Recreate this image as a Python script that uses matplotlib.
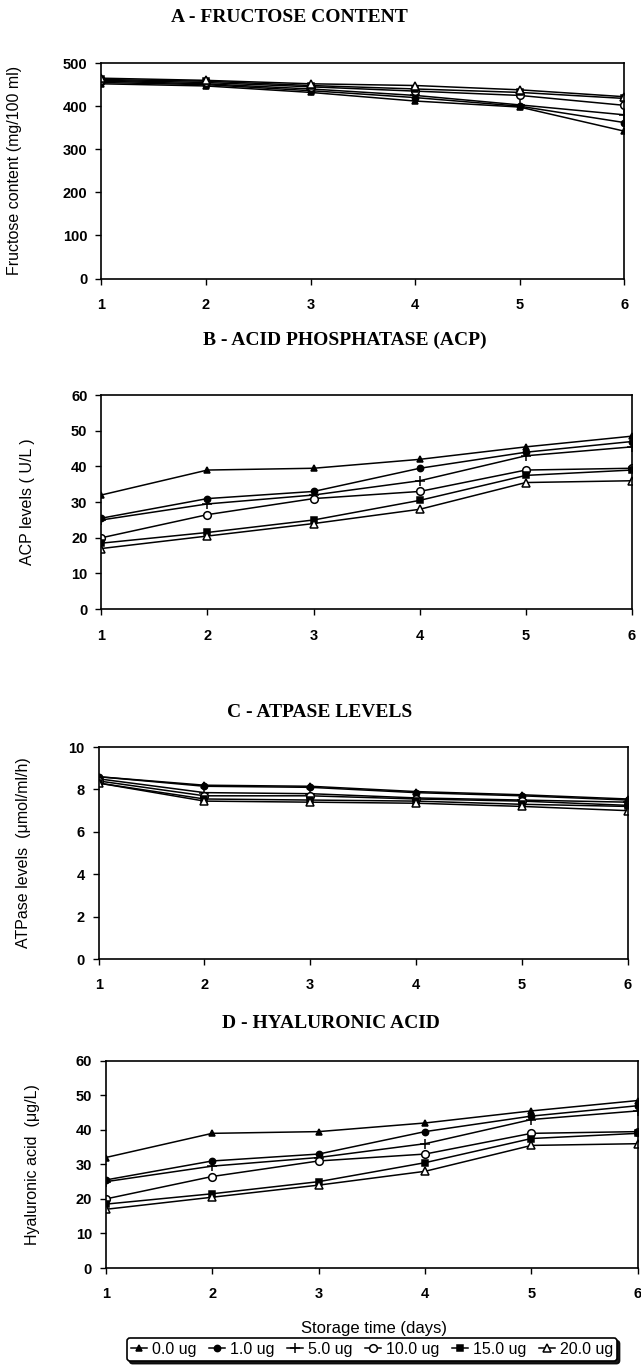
import numpy as np
import matplotlib.pyplot as plt
import matplotlib.transforms as mtrans

days = [1, 2, 3, 4, 5, 6]
doses = ['0.0 ug', '1.0 ug', '5.0 ug', '10.0 ug', '15.0 ug', '20.0 ug']

## A - fructose (mg/100 ml)
fru_00 = [452, 447, 432, 412, 398, 342]
fru_01 = [455, 450, 436, 420, 400, 362]
fru_05 = [458, 452, 440, 425, 403, 380]
fru_10 = [460, 455, 445, 435, 425, 402]
fru_15 = [462, 458, 448, 440, 432, 418]
fru_20 = [465, 460, 452, 448, 438, 422]

## B - ACP (U/L)
acp_00 = [32, 39, 39.5, 42, 45.5, 48.5]
acp_01 = [25.5, 31, 33, 39.5, 44, 47]
acp_05 = [25, 29.5, 32, 36, 43, 45.5]
acp_10 = [20, 26.5, 31, 33, 39, 39.5]
acp_15 = [18.5, 21.5, 25, 30.5, 37.5, 39]
acp_20 = [17, 20.5, 24, 28, 35.5, 36]

## C - ATPase (umol/ml/h)
atp_00 = [8.6, 8.2, 8.15, 7.9, 7.75, 7.55]
atp_01 = [8.6, 8.15, 8.1, 7.85, 7.7, 7.5]
atp_05 = [8.5, 7.85, 7.8, 7.6, 7.5, 7.4]
atp_10 = [8.4, 7.7, 7.7, 7.55, 7.45, 7.25]
atp_15 = [8.3, 7.55, 7.5, 7.45, 7.3, 7.2]
atp_20 = [8.3, 7.45, 7.4, 7.35, 7.2, 7.0]

## D - hyaluronic acid (ug/L)
ha_00 = [32, 39, 39.5, 42, 45.5, 48.5]
ha_01 = [25.5, 31, 33, 39.5, 44, 47]
ha_05 = [25, 29.5, 32, 36, 43, 45.5]
ha_10 = [20, 26.5, 31, 33, 39, 39.5]
ha_15 = [18.5, 21.5, 25, 30.5, 37.5, 39]
ha_20 = [17, 20.5, 24, 28, 35.5, 36]

markers = ['^', 'o', '+', 'o', 's', '^']
filled = [True, True, True, False, True, False]
msizes = [4.5, 4.5, 7, 5.5, 4.5, 5.5]

fig = plt.figure(figsize=(6.41, 13.72), dpi=100)

panels = [
    ([0.158, 0.797, 0.816, 0.157], [fru_00, fru_01, fru_05, fru_10, fru_15, fru_20],
     (0, 500), np.arange(0, 501, 100), 'Fructose content (mg/100 ml)', 'A - FRUCTOSE CONTENT', 0.452, 0.987, 0.034),
    ([0.158, 0.556, 0.828, 0.156], [acp_00, acp_01, acp_05, acp_10, acp_15, acp_20],
     (0, 60), np.arange(0, 61, 10), 'ACP levels ( U/L )', 'B - ACID PHOSPHATASE (ACP)', 0.538, 0.752, 0.054),
    ([0.154, 0.301, 0.825, 0.1545], [atp_00, atp_01, atp_05, atp_10, atp_15, atp_20],
     (0, 10), np.arange(0, 11, 2), 'ATPase levels  (\u03bcmol/ml/h)', 'C - ATPASE LEVELS', 0.498, 0.481, 0.049),
    ([0.165, 0.0758, 0.830, 0.151], [ha_00, ha_01, ha_05, ha_10, ha_15, ha_20],
     (0, 60), np.arange(0, 61, 10), 'Hyaluronic acid  (\u03bcg/L)', 'D - HYALURONIC ACID', 0.516, 0.254, 0.062),
]

for rect, series, ylim, yticks, ylab, title, tx, ty, lx in panels:
    ax = fig.add_axes(rect)
    for vals, m, f, ms, lab in zip(series, markers, filled, msizes, doses):
        ax.plot(days, vals, color='black', lw=1.1, marker=m, ms=ms,
                mfc='black' if f else 'white', mec='black', mew=1.1, label=lab)
    ax.set_xlim(1, 6)
    ax.set_ylim(*ylim)
    ax.set_xticks(days)
    ax.set_yticks(yticks)
    for s in ax.spines.values():
        s.set_linewidth(1.2)
    ax.tick_params(direction='out', length=4, width=1, labelsize=10.5)
    ax.tick_params(axis='x', pad=10)
    ax.tick_params(axis='y', pad=6)
    for t in ax.get_xticklabels() + ax.get_yticklabels():
        t.set_fontweight('bold')
        t.set_family('Liberation Sans')
    ax.set_ylabel(ylab, fontsize=11.5, family='Liberation Sans')
    # x in figure coords, y centred on the axes
    ax.yaxis.set_label_coords(lx, 0.5, transform=mtrans.blended_transform_factory(fig.transFigure, ax.transAxes))
    fig.text(tx, ty, title, ha='center', va='center', fontsize=14,
             fontweight='bold', family='Liberation Serif')

## x label and legend only under the last panel
fig.text(0.583, 0.032, 'Storage time (days)', ha='center', va='center',
         fontsize=12, family='Liberation Sans')

handles, labels = ax.get_legend_handles_labels()
leg = fig.legend(handles, labels, loc='center', bbox_to_anchor=(0.58, 0.0165),
                 ncol=6, fontsize=11.5, frameon=True, fancybox=True, shadow={'color': 'black', 'alpha': 0.9},
                 handlelength=1.0, handletextpad=0.3, columnspacing=0.8,
                 borderpad=0.25, borderaxespad=0.0)
leg.get_frame().set_edgecolor('black')
leg.get_frame().set_linewidth(1.2)
for t in leg.get_texts():
    t.set_family('Liberation Sans')

fig.savefig('out.png', dpi=100)
